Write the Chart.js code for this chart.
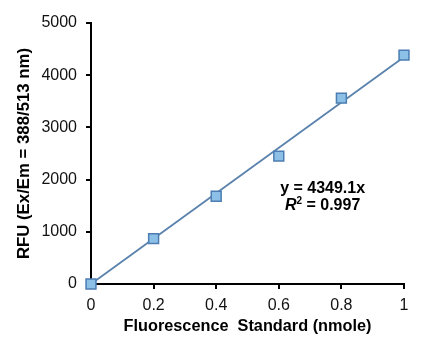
<!DOCTYPE html>
<html>
<head>
<meta charset="utf-8">
<script src="https://cdn.jsdelivr.net/npm/chart.js@4/dist/chart.umd.min.js"></script>
<style>
  html, body { margin: 0; padding: 0; background: #fff; }
  canvas { display: block; }
</style>
</head>
<body>
<canvas id="chart" width="440" height="342"></canvas>
<script>
// standard amounts (nmole) and measured RFU
const amounts = [0, 0.2, 0.4, 0.6, 0.8, 1];
const rfu = [0, 870, 1680, 2450, 3560, 4385];

// linear fit through origin, y = 4349.1x
const fitX = [0, 1];
const fitY = [0, 4349.1];
const fitLines = ['y = 4349.1x', '= 0.997'];
const fitAnchor = { x: 0.74, y: 1825 };

const xTickLabels = ['0', '0.2', '0.4', '0.6', '0.8', '1'];
const yTickLabels = ['0', '1000', '2000', '3000', '4000', '5000'];

const FONT = '"Liberation Sans", Arial, sans-serif';

const fitLabel = {
    id: 'fitLabel',
    afterDatasetsDraw(chart) {
        const { ctx, scales } = chart;
        const cx = scales.x.getPixelForValue(fitAnchor.x);
        const cy = scales.y.getPixelForValue(fitAnchor.y);
        ctx.save();
        ctx.fillStyle = '#000';
        ctx.textBaseline = 'middle';
        ctx.font = 'bold 16px ' + FONT;
        ctx.textAlign = 'center';
        ctx.fillText(fitLines[0], cx, cy);

        // second line: italic R, superscript 2, rest bold
        const rFont = 'italic bold 16px ' + FONT;
        const supFont = 'bold 10px ' + FONT;
        const restFont = 'bold 16px ' + FONT;
        ctx.font = rFont;  const wR = ctx.measureText('R').width;
        ctx.font = supFont; const wS = ctx.measureText('2').width;
        ctx.font = restFont; const wRest = ctx.measureText(' ' + fitLines[1]).width;
        let x = cx - (wR + wS + wRest) / 2;
        const y2 = cy + 17;
        ctx.textAlign = 'left';
        ctx.font = rFont; ctx.fillText('R', x, y2); x += wR;
        ctx.font = supFont; ctx.fillText('2', x, y2 - 4); x += wS;
        ctx.font = restFont; ctx.fillText(' ' + fitLines[1], x, y2);
        ctx.restore();
    }
};

new Chart(document.getElementById('chart'), {
    type: 'scatter',
    data: {
        datasets: [{
            label: 'Standard',
            data: amounts.map((a, i) => ({ x: a, y: rfu[i] })),
            pointStyle: 'rect',
            pointRadius: 7,
            backgroundColor: '#8DC0E6',
            borderColor: '#4C7DB3',
            borderWidth: 1.5,
            clip: false
        }, {
            label: 'Linear fit',
            data: fitX.map((a, i) => ({ x: a, y: fitY[i] })),
            showLine: true,
            pointRadius: 0,
            borderColor: '#5A82AD',
            borderWidth: 1.8,
            clip: false
        }]
    },
    options: {
        responsive: false,
        animation: false,
        layout: { padding: { left: 0, top: 23, right: 36, bottom: 0 } },
        plugins: {
            legend: { display: false },
            tooltip: { enabled: false }
        },
        scales: {
            x: {
                type: 'linear',
                min: 0,
                max: 1,
                afterFit: (s) => { s.height = 58; },
                ticks: {
                    stepSize: 0.2,
                    padding: 7,
                    color: '#111',
                    font: { family: FONT, size: 16 },
                    callback: (v, i) => xTickLabels[i]
                },
                grid: { drawOnChartArea: false, tickLength: 5, color: '#000', lineWidth: 2 },
                border: { color: '#000', width: 2 },
                title: {
                    display: true,
                    text: 'Fluorescence  Standard (nmole)',
                    color: '#000',
                    font: { family: FONT, size: 16.3, weight: 'bold' },
                    padding: { top: 0, bottom: 6 }
                }
            },
            y: {
                min: 0,
                max: 5000,
                afterFit: (s) => { s.width = 91; },
                ticks: {
                    stepSize: 1000,
                    padding: 9,
                    color: '#111',
                    font: { family: FONT, size: 16 },
                    callback: (v, i) => yTickLabels[i]
                },
                grid: { drawOnChartArea: false, tickLength: 5, color: '#000', lineWidth: 2 },
                border: { color: '#000', width: 2 },
                title: {
                    display: true,
                    text: 'RFU (Ex/Em = 388/513 nm)',
                    color: '#000',
                    font: { family: FONT, size: 16.8, weight: 'bold' },
                    padding: { top: 14, bottom: 0 }
                }
            }
        }
    },
    plugins: [fitLabel]
});
</script>
</body>
</html>
